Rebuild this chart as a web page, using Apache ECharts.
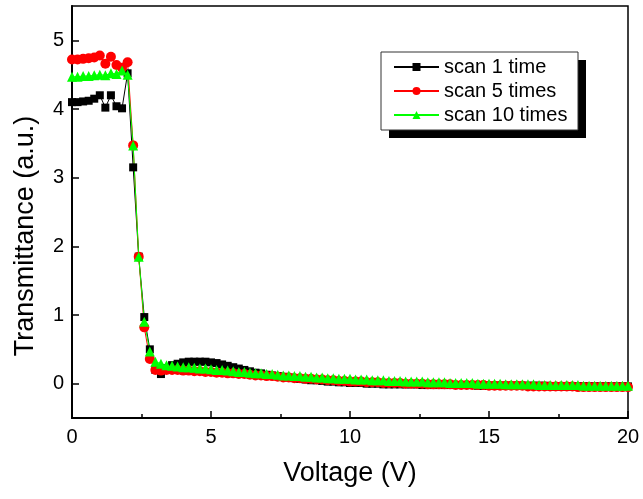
<!DOCTYPE html>
<html>
<head>
<meta charset="utf-8">
<script src="https://cdn.jsdelivr.net/npm/echarts@6/dist/echarts.min.js"></script>
<style>
html,body{margin:0;padding:0;background:#fff;}
#chart{width:643px;height:499px;}
</style>
</head>
<body>
<div id="chart"></div>
<script>
// voltage grid (V), one point every 0.2 V
var volts = [0,0.2,0.4,0.6,0.8,1,1.2,1.4,1.6,1.8,2,2.2,2.4,2.6,2.8,3,3.2,3.4,3.6,3.8,
	4,4.2,4.4,4.6,4.8,5,5.2,5.4,5.6,5.8,6,6.2,6.4,6.6,6.8,7,7.2,7.4,7.6,7.8,
	8,8.2,8.4,8.6,8.8,9,9.2,9.4,9.6,9.8,10,10.2,10.4,10.6,10.8,11,11.2,11.4,11.6,11.8,
	12,12.2,12.4,12.6,12.8,13,13.2,13.4,13.6,13.8,14,14.2,14.4,14.6,14.8,15,15.2,15.4,15.6,15.8,
	16,16.2,16.4,16.6,16.8,17,17.2,17.4,17.6,17.8,18,18.2,18.4,18.6,18.8,19,19.2,19.4,19.6,19.8,20];

var scan1 = [4.10,4.10,4.11,4.12,4.15,4.20,4.02,4.20,4.04,4.01,4.52,3.15,1.85,0.97,0.50,0.20,0.14,0.22,0.27,0.29,
	0.31,0.32,0.32,0.32,0.32,0.31,0.30,0.28,0.26,0.24,0.22,0.20,0.18,0.16,0.15,0.13,0.12,0.11,0.10,0.09,
	0.08,0.07,0.06,0.05,0.05,0.04,0.03,0.03,0.02,0.02,0.01,0.01,0.01,0.00,0.00,0.00,-0.01,-0.01,-0.01,-0.01,
	-0.01,-0.01,-0.01,-0.02,-0.02,-0.02,-0.02,-0.02,-0.02,-0.02,-0.02,-0.02,-0.02,-0.03,-0.03,-0.03,-0.03,-0.03,-0.03,-0.03,
	-0.03,-0.03,-0.03,-0.03,-0.03,-0.03,-0.04,-0.04,-0.04,-0.04,-0.04,-0.04,-0.04,-0.04,-0.04,-0.04,-0.04,-0.04,-0.04,-0.04,-0.04];

var scan5 = [4.72,4.72,4.73,4.74,4.75,4.78,4.66,4.76,4.64,4.60,4.68,3.47,1.85,0.82,0.36,0.20,0.19,0.20,0.20,0.20,
	0.19,0.19,0.18,0.18,0.17,0.17,0.16,0.16,0.15,0.15,0.14,0.14,0.13,0.12,0.12,0.11,0.11,0.10,0.09,0.09,
	0.08,0.08,0.07,0.07,0.06,0.06,0.05,0.05,0.04,0.04,0.03,0.03,0.03,0.02,0.02,0.02,0.01,0.01,0.01,0.01,
	0.00,0.00,0.00,0.00,-0.01,-0.01,-0.01,-0.01,-0.01,-0.02,-0.02,-0.02,-0.02,-0.02,-0.02,-0.03,-0.03,-0.03,-0.03,-0.03,
	-0.03,-0.03,-0.04,-0.04,-0.04,-0.04,-0.04,-0.04,-0.04,-0.04,-0.04,-0.05,-0.05,-0.05,-0.05,-0.05,-0.05,-0.05,-0.05,-0.05,-0.05];

var scan10 = [4.47,4.47,4.48,4.48,4.49,4.50,4.49,4.52,4.51,4.56,4.50,3.47,1.85,0.90,0.47,0.32,0.29,0.27,0.26,0.25,
	0.24,0.24,0.23,0.22,0.22,0.21,0.20,0.20,0.19,0.18,0.17,0.17,0.16,0.15,0.15,0.14,0.14,0.13,0.12,0.12,
	0.11,0.11,0.10,0.10,0.09,0.09,0.08,0.08,0.07,0.07,0.07,0.06,0.06,0.06,0.05,0.05,0.05,0.04,0.04,0.04,
	0.03,0.03,0.03,0.03,0.02,0.02,0.02,0.02,0.01,0.01,0.01,0.01,0.01,0.00,0.00,0.00,0.00,0.00,-0.01,-0.01,
	-0.01,-0.01,-0.01,-0.01,-0.02,-0.02,-0.02,-0.02,-0.02,-0.02,-0.02,-0.02,-0.03,-0.03,-0.03,-0.03,-0.03,-0.03,-0.03,-0.03,-0.03];

var seriesNames = ['scan 1 time', 'scan 5 times', 'scan 10 times'];
var xTicks = [0, 5, 10, 15, 20];
var yTicks = [0, 1, 2, 3, 4, 5];

function pairs(ys) {
	var out = [];
	for (var i = 0; i < volts.length; i++) {
		out.push([volts[i], ys[i]]);
	}
	return out;
}

var font = 'Liberation Sans, Arial, sans-serif';
var myChart = echarts.init(document.getElementById('chart'), null, {renderer: 'canvas'});

var option = {
	animation: false,
	backgroundColor: '#fff',
	textStyle: {fontFamily: font, color: '#000'},
	grid: {
		left: 72,
		right: 15,
		top: 6,
		bottom: 81,
		show: true,
		borderColor: '#000',
		borderWidth: 1.5,
		containLabel: false
	},
	legend: {
		data: seriesNames,
		orient: 'vertical',
		left: 381,
		top: 52,
		z: 10,
		padding: [5, 10, 5, 12],
		itemGap: 4,
		itemWidth: 45,
		itemHeight: 10,
		textStyle: {fontFamily: font, fontSize: 20, color: '#000'}
	},
	graphic: [{
		// legend frame with its drop shadow
		type: 'rect',
		z: 5,
		shape: {x: 389, y: 60, width: 197, height: 78},
		style: {fill: '#000'}
	}, {
		type: 'rect',
		z: 6,
		shape: {x: 381, y: 52, width: 197, height: 78},
		style: {fill: '#fff', stroke: '#333', lineWidth: 1}
	}, {
		type: 'text',
		x: 26,
		y: 236,
		rotation: Math.PI / 2,
		style: {
			text: 'Transmittance (a.u.)',
			font: '27px ' + font,
			fill: '#000',
			textAlign: 'center',
			textVerticalAlign: 'middle'
		}
	}],
	xAxis: {
		type: 'value',
		min: 0,
		max: 20,
		interval: 5,
		name: 'Voltage (V)',
		nameLocation: 'middle',
		nameGap: 42,
		nameTextStyle: {fontSize: 27, fontFamily: font, color: '#000'},
		axisLine: {onZero: false, lineStyle: {color: '#000', width: 2}},
		axisTick: {inside: true, length: 7, lineStyle: {color: '#000', width: 1.5}},
		minorTick: {show: true, splitNumber: 2, length: 4, lineStyle: {color: '#000', width: 1.5}},
		axisLabel: {
			fontSize: 20, color: '#000', fontFamily: font, margin: 9,
			customValues: xTicks
		},
		splitLine: {show: false}
	},
	yAxis: {
		type: 'value',
		min: -0.5,
		max: 5.5,
		axisLine: {onZero: false, lineStyle: {color: '#000', width: 2}},
		axisTick: {inside: true, length: 7, lineStyle: {color: '#000', width: 1.5}, customValues: yTicks},
		axisLabel: {
			fontSize: 20, color: '#000', fontFamily: font, margin: 8,
			customValues: yTicks
		},
		splitLine: {show: false}
	},
	series: [{
		name: seriesNames[0],
		type: 'line',
		data: pairs(scan1),
		symbol: 'rect',
		symbolSize: 8,
		color: '#000',
		lineStyle: {width: 1, color: '#000'},
		itemStyle: {color: '#000'}
	}, {
		name: seriesNames[1],
		type: 'line',
		data: pairs(scan5),
		symbol: 'circle',
		symbolSize: 10,
		color: '#ff0000',
		lineStyle: {width: 1, color: '#ff0000'},
		itemStyle: {color: '#ff0000'}
	}, {
		name: seriesNames[2],
		type: 'line',
		data: pairs(scan10),
		symbol: 'triangle',
		symbolSize: 10,
		color: '#00ff00',
		lineStyle: {width: 1, color: '#00ff00'},
		itemStyle: {color: '#00ff00'}
	}]
};
myChart.setOption(option);
</script>
</body>
</html>
